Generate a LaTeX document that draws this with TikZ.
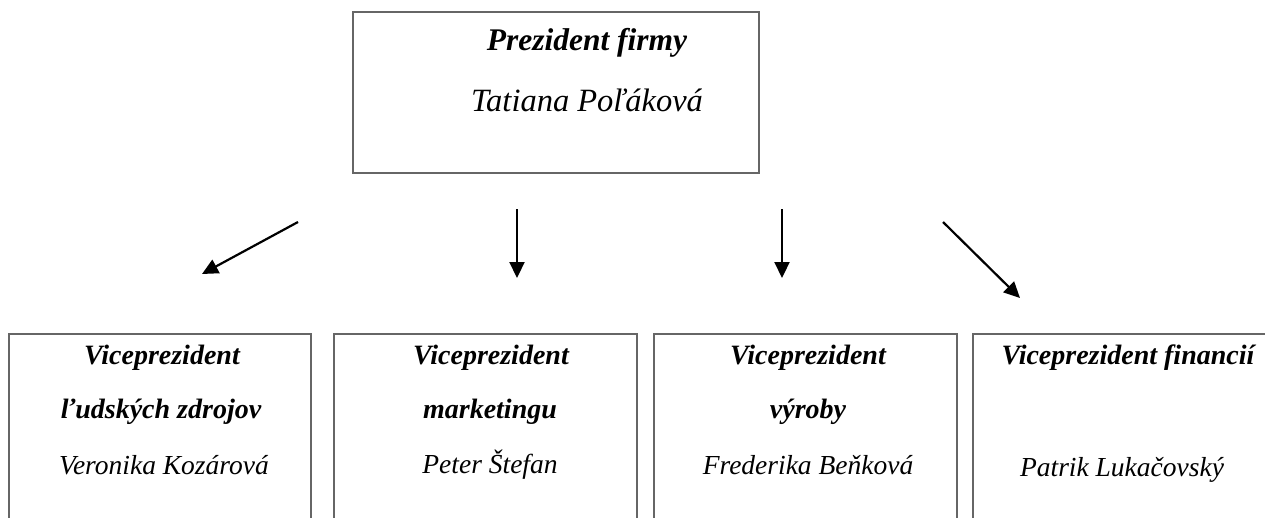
\documentclass[tikz,border=0pt]{standalone}
\usepackage{fontspec}
\setmainfont{Liberation Serif}
\usetikzlibrary{arrows.meta}
\begin{document}
\begin{tikzpicture}[x=1pt,y=-1pt,
  frame/.style={draw=black!60, line width=1.6pt},
  toptitle/.style={font=\fontsize{31.5}{36}\selectfont\bfseries\itshape, inner sep=0pt, anchor=center},
  topperson/.style={font=\fontsize{32.5}{36}\selectfont\itshape, inner sep=0pt, anchor=center},
  title/.style={font=\fontsize{28}{32}\selectfont\bfseries\itshape, inner sep=0pt, anchor=center},
  person/.style={font=\fontsize{27.5}{32}\selectfont\itshape, inner sep=0pt, anchor=center},
  arr/.style={line width=2.2pt, -{Triangle[length=16pt,width=15pt]}}]
\useasboundingbox (0,0) rectangle (1265,517);
\clip (0,0) rectangle (1265,517);
% boxes
\coordinate (p1) at (353,173);
\coordinate (p2) at (353,12);
\coordinate (p3) at (759,12);
\coordinate (p4) at (759,173);
\draw[frame] (p1) -- (p2) -- (p3) -- (p4) -- cycle;
\coordinate (a1) at (9,530);  \coordinate (a2) at (9,334);  \coordinate (a3) at (311,334); \coordinate (a4) at (311,530);
\coordinate (b1) at (334,530);\coordinate (b2) at (334,334);\coordinate (b3) at (637,334); \coordinate (b4) at (637,530);
\coordinate (c1) at (654,530);\coordinate (c2) at (654,334);\coordinate (c3) at (957,334); \coordinate (c4) at (957,530);
\coordinate (d1) at (973,530);\coordinate (d2) at (973,334);\coordinate (d3) at (1280,334);
\draw[frame] (a1) -- (a2) -- (a3) -- (a4);
\draw[frame] (b1) -- (b2) -- (b3) -- (b4);
\draw[frame] (c1) -- (c2) -- (c3) -- (c4);
\draw[frame] (d1) -- (d2) -- (d3);
% texts
\node[toptitle]  (t1) at (587,43)  {Prezident firmy};
\node[topperson] (t2) at (587,100) {Tatiana Poľáková};
\node[title]  (v1) at (162,358) {Viceprezident};
\node[title]  (v2) at (161,412) {ľudských zdrojov};
\node[person] (v3) at (164,465) {Veronika Kozárová};
\node[title]  (m1) at (491,358) {Viceprezident};
\node[title]  (m2) at (490,412) {marketingu};
\node[person] (m3) at (490,465) {Peter Štefan};
\node[title]  (r1) at (808,358) {Viceprezident};
\node[title]  (r2) at (808,412) {výroby};
\node[person] (r3) at (808,465) {Frederika Beňková};
\node[title]  (f1) at (1128,358) {Viceprezident financií};
\node[person] (f2) at (1122,470) {Patrik Lukačovský};
% arrows
\coordinate (s1) at (298,222); \coordinate (e1) at (202,274);
\coordinate (s2) at (517,209); \coordinate (e2) at (517,278);
\coordinate (s3) at (782,209); \coordinate (e3) at (782,278);
\coordinate (s4) at (943,222); \coordinate (e4) at (1020,298);
\draw[arr] (s1) -- (e1);
\draw[arr] (s2) -- (e2);
\draw[arr] (s3) -- (e3);
\draw[arr] (s4) -- (e4);
\end{tikzpicture}
\end{document}
